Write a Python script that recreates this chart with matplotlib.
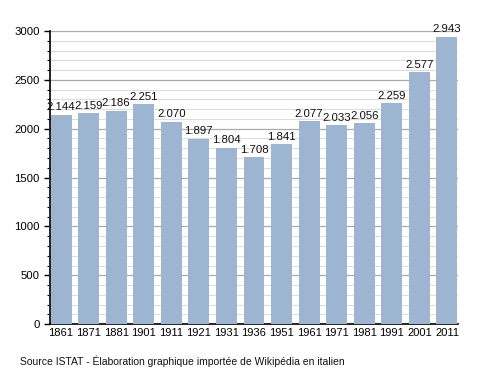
import matplotlib
matplotlib.use("Agg")
import matplotlib.pyplot as plt
from matplotlib.ticker import MultipleLocator

annees = ["1861", "1871", "1881", "1901", "1911", "1921", "1931", "1936",
          "1951", "1961", "1971", "1981", "1991", "2001", "2011"]
habitants = [2144, 2159, 2186, 2251, 2070, 1897, 1804, 1708,
             1841, 2077, 2033, 2056, 2259, 2577, 2943]
etiquettes = ["2.144", "2.159", "2.186", "2.251", "2.070", "1.897", "1.804", "1.708",
              "1.841", "2.077", "2.033", "2.056", "2.259", "2.577", "2.943"]

plt.rcParams['font.family'] = ['Liberation Sans', 'DejaVu Sans']

fig = plt.figure(figsize=(4.88, 3.73), dpi=100)
ax = fig.add_axes([0.1025, 0.131, 0.836, 0.786])

x = range(len(annees))
ax.bar(x, habitants, width=0.76, color="#9eb5d2", zorder=3)
for i, v in enumerate(habitants):
    ax.text(i, v + 25, etiquettes[i], ha="center", va="bottom", fontsize=8.2, color="#111111", zorder=4)

ax.set_ylim(0, 3000)
ax.set_xlim(-0.4, len(annees) - 0.6)
ax.yaxis.set_major_locator(MultipleLocator(500))
ax.yaxis.set_minor_locator(MultipleLocator(100))
ax.grid(axis="y", which="major", color="#aaaaaa", linewidth=0.9, zorder=0)
ax.grid(axis="y", which="minor", color="#dddddd", linewidth=0.8, zorder=0)
ax.set_xticks(list(x))
ax.set_xticklabels(annees, fontsize=8)
ax.tick_params(axis="y", labelsize=8.2, length=4, width=1)
ax.tick_params(axis="y", which="minor", length=2, width=0.8)
ax.tick_params(axis="x", length=0, pad=3)
for s in ["top", "right"]:
    ax.spines[s].set_visible(False)
ax.spines["left"].set_linewidth(1.2)
ax.spines["bottom"].set_linewidth(1.2)

fig.text(0.041, 0.022, "Source ISTAT - Élaboration graphique importée de Wikipédia en italien",
         fontsize=7.5, color="#111111")

fig.savefig("out.png", dpi=100)
